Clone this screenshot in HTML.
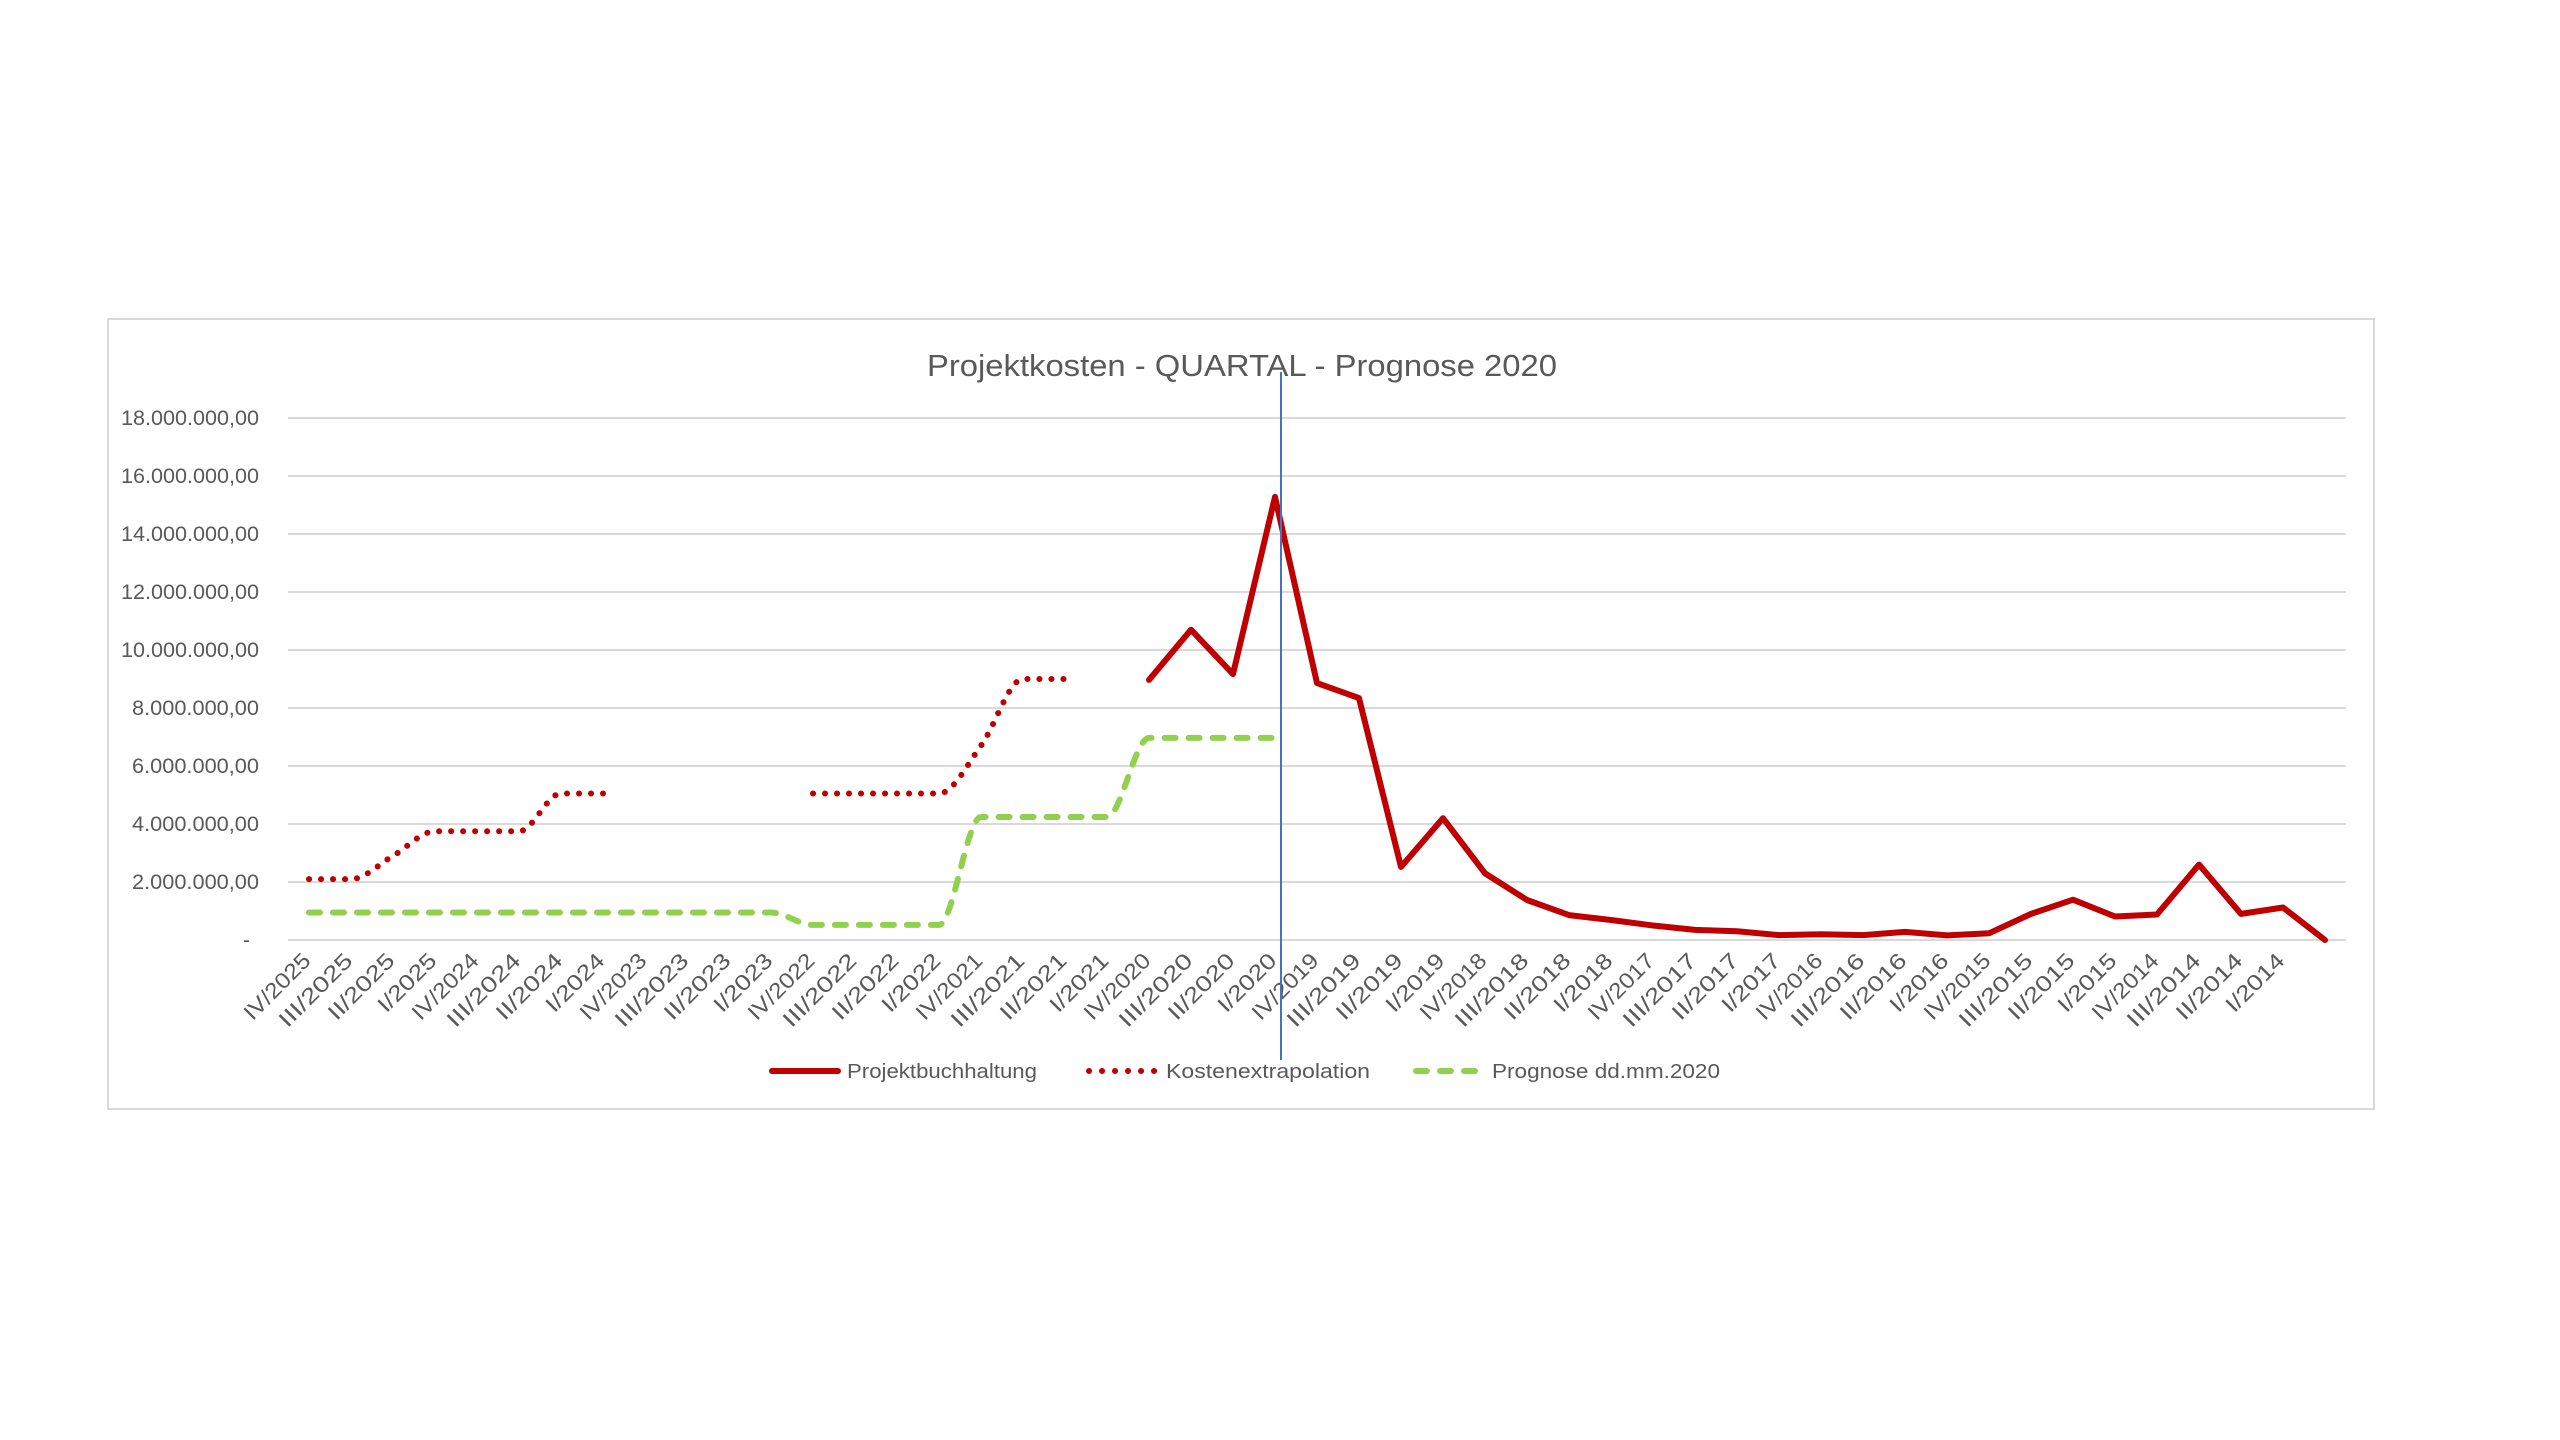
<!DOCTYPE html>
<html><head><meta charset="utf-8"><style>
html,body{margin:0;padding:0;background:#fff;}
svg{display:block;font-family:"Liberation Sans",sans-serif;}
</style></head><body>
<svg id="chart" width="2560" height="1440" viewBox="0 0 2560 1440">
<rect x="108" y="319" width="2266" height="790" fill="#fff" stroke="#d9d9d9" stroke-width="2"/>
<text x="1242" y="376" text-anchor="middle" font-size="31" fill="#595959" textLength="630" lengthAdjust="spacingAndGlyphs">Projektkosten - QUARTAL - Prognose 2020</text>
<g id="grid"></g><g id="ylabels"></g><g id="xlabels"></g><g id="series"></g>
<g>
<g>
<line x1="772" y1="1071" x2="838" y2="1071" stroke="#c00000" stroke-width="6" stroke-linecap="round"/>
<text x="847" y="1078" font-size="20" fill="#595959" textLength="190" lengthAdjust="spacingAndGlyphs">Projektbuchhaltung</text></g>
<g>
<line x1="1089" y1="1071" x2="1155" y2="1071" stroke="#c00000" stroke-width="6" stroke-linecap="round" stroke-dasharray="0.1 12.9"/>
<text x="1166" y="1078" font-size="20" fill="#595959" textLength="204" lengthAdjust="spacingAndGlyphs">Kostenextrapolation</text></g>
<g>
<line x1="1416" y1="1071" x2="1480" y2="1071" stroke="#92d050" stroke-width="6" stroke-linecap="round" stroke-dasharray="11 13"/>
<text x="1492" y="1078" font-size="20" fill="#595959" textLength="228" lengthAdjust="spacingAndGlyphs">Prognose dd.mm.2020</text></g>
</g>
<line x1="1281" y1="372" x2="1281" y2="1060" stroke="#4472c4" stroke-width="2"/>
</svg>
<script>
const categories = ["IV/2025","III/2025","II/2025","I/2025","IV/2024","III/2024","II/2024","I/2024","IV/2023","III/2023","II/2023","I/2023","IV/2022","III/2022","II/2022","I/2022","IV/2021","III/2021","II/2021","I/2021","IV/2020","III/2020","II/2020","I/2020","IV/2019","III/2019","II/2019","I/2019","IV/2018","III/2018","II/2018","I/2018","IV/2017","III/2017","II/2017","I/2017","IV/2016","III/2016","II/2016","I/2016","IV/2015","III/2015","II/2015","I/2015","IV/2014","III/2014","II/2014","I/2014",""];
const projektbuchhaltung = [null,null,null,null,null,null,null,null,null,null,null,null,null,null,null,null,null,null,null,null,8970000,10700000,9170000,15280000,8860000,8340000,2520000,4200000,2300000,1380000,860000,690000,500000,350000,300000,170000,200000,170000,280000,160000,230000,900000,1390000,810000,880000,2600000,900000,1120000,0];
const kostenextrapolation = [2100000,2100000,2900000,3750000,3750000,3750000,5050000,5050000,null,null,null,null,5050000,5050000,5050000,5050000,6700000,9000000,9000000,null,null,null,null,null,null,null,null,null,null,null,null,null,null,null,null,null,null,null,null,null,null,null,null,null,null,null,null,null,null];
const prognose = [950000,950000,950000,950000,950000,950000,950000,950000,950000,950000,950000,950000,520000,520000,520000,520000,4240000,4240000,4240000,4240000,6970000,6970000,6970000,6970000,null,null,null,null,null,null,null,null,null,null,null,null,null,null,null,null,null,null,null,null,null,null,null,null,null];
const yTicks = [0,2000000,4000000,6000000,8000000,10000000,12000000,14000000,16000000,18000000];
const yTickLabels = ["-","2.000.000,00","4.000.000,00","6.000.000,00","8.000.000,00","10.000.000,00","12.000.000,00","14.000.000,00","16.000.000,00","18.000.000,00"];

const NS="http://www.w3.org/2000/svg";
const plotL=288, plotR=2346, y0=940, y18=418;
const step=(plotR-plotL)/categories.length;
function xScale(i){return plotL+step*(i+0.5);}
function yScale(v){return y0-(v/18000000)*(y0-y18);}
function mk(tag,attrs,parent){const e=document.createElementNS(NS,tag);for(const k in attrs)e.setAttribute(k,attrs[k]);parent.appendChild(e);return e;}

const grid=document.getElementById('grid'), yl=document.getElementById('ylabels'), xl=document.getElementById('xlabels'), ser=document.getElementById('series');
yTicks.forEach((t,i)=>{
  const g=mk('line',{x1:plotL,x2:plotR,y1:yScale(t),y2:yScale(t),stroke:'#d9d9d9','stroke-width':2},grid);
  
  
  const isZero=t===0;
  const tx=mk('text',{x:isZero?250:259,y:yScale(t)+7,'text-anchor':'end','font-size':21,fill:'#595959'},yl);
  if(!isZero){tx.setAttribute('textLength',yTickLabels[i].length>12?138:127);tx.setAttribute('lengthAdjust','spacingAndGlyphs');}
  tx.textContent=yTickLabels[i];
  
  
});
categories.forEach((c,i)=>{
  if(!c)return;
  const x=xScale(i)+3, y=962;
  const tx=mk('text',{x:x,y:y,'text-anchor':'end','font-size':22,fill:'#595959',transform:`rotate(-45 ${x} ${y})`},xl);
  tx.setAttribute('textLength',(c.length*10.5+10).toFixed(0));
  tx.setAttribute('lengthAdjust','spacingAndGlyphs');
  tx.textContent=c;
  
  
});
function segments(arr){const segs=[];let cur=[];arr.forEach((v,i)=>{if(v===null){if(cur.length)segs.push(cur);cur=[];}else cur.push([xScale(i),yScale(v)]);});if(cur.length)segs.push(cur);return segs;}
function straight(p){return p.map((q,i)=>(i?'L':'M')+q[0].toFixed(1)+' '+q[1].toFixed(1)).join(' ');}
function monotone(p){
  const n=p.length; if(n<2)return straight(p);
  const d=[],m=[];
  for(let i=0;i<n-1;i++)d.push((p[i+1][1]-p[i][1])/(p[i+1][0]-p[i][0]));
  m[0]=d[0];m[n-1]=d[n-2];
  for(let i=1;i<n-1;i++){m[i]=(d[i-1]*d[i]<=0)?0:(d[i-1]+d[i])/2;}
  for(let i=0;i<n-1;i++){if(d[i]===0){m[i]=0;m[i+1]=0;}}
  let s='M'+p[0][0].toFixed(1)+' '+p[0][1].toFixed(1);
  for(let i=0;i<n-1;i++){const h=(p[i+1][0]-p[i][0])/3;
    s+=` C${(p[i][0]+h).toFixed(1)} ${(p[i][1]+m[i]*h).toFixed(1)} ${(p[i+1][0]-h).toFixed(1)} ${(p[i+1][1]-m[i+1]*h).toFixed(1)} ${p[i+1][0].toFixed(1)} ${p[i+1][1].toFixed(1)}`;}
  return s;}
segments(prognose).forEach(s=>{
  const p=mk('path',{d:monotone(s),fill:'none',stroke:'#92d050','stroke-width':6,'stroke-linecap':'round','stroke-dasharray':'11 13'},ser);
  
  
});
segments(kostenextrapolation).forEach(s=>{
  const p=mk('path',{d:monotone(s),fill:'none',stroke:'#c00000','stroke-width':6,'stroke-linecap':'round','stroke-dasharray':'0.1 11.9'},ser);
  
  
});
segments(projektbuchhaltung).forEach(s=>{
  const p=mk('path',{d:straight(s),fill:'none',stroke:'#c00000','stroke-width':6,'stroke-linejoin':'round','stroke-linecap':'round'},ser);
  
  
});
</script>
</body></html>
